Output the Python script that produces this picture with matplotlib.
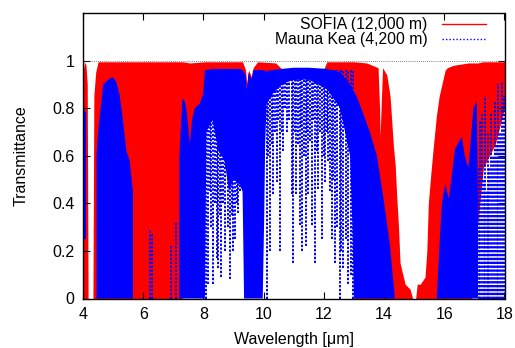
import numpy as np
import matplotlib
matplotlib.use("Agg")
import matplotlib.pyplot as plt

nan = np.nan

# SOFIA (12,000 m): envelope of the dense line forest (upper / lower)
sofia_wl = [4.00, 4.05, 4.10, 4.14, 4.17, 4.33, 4.36, 4.42, 4.50, 7.30, 7.55, 8.05,
            8.10, 9.30, 9.40, 9.44, 9.50, 9.60, 9.65, 9.80, 10.40, 10.60, 12.00, 12.10,
            12.50, 12.90, 12.95, 13.00, 13.42, 13.80, 13.85, 13.87, 13.90, 13.95, 14.09,
            14.20, 14.31, 14.37, 14.42, 14.48, 14.53, 14.70, 14.86, 14.95, 15.05, 15.10,
            15.20, 15.36, 15.42, 15.47, 15.55, 15.63, 15.74, 15.83, 15.92, 16.03, 16.10,
            16.30, 16.80, 16.90, 17.10, 17.30, 17.70, 18.00]
sofia_hi = [0.95, 0.995, 0.98, 0.90, 0.00, 0.00, 0.85, 0.95, 0.995, 0.995, 0.99, 0.995,
            0.995, 0.995, 0.96, 0.90, 0.96, 0.93, 0.97, 0.995, 0.99, 0.965, 0.965, 0.995,
            0.995, 0.995, 0.995, 0.995, 0.99, 0.97, 0.80, 0.68, 0.80, 0.97, 0.94,
            0.85, 0.64, 0.56, 0.43, 0.30, 0.15, 0.06, 0.04, 0.00, 0.00, 0.06,
            0.06, 0.09, 0.20, 0.40, 0.52, 0.63, 0.77, 0.85, 0.90, 0.96, 0.97,
            0.98, 0.99, 0.99, 0.99, 0.995, 0.995, 0.995]
sofia_lo = [0.00, 0.00, 0.00, 0.00, 0.00, 0.00, 0.00, 0.00, 0.00, 0.00, 0.50, 0.50,
            0.94, 0.94, 0.90, 0.85, 0.90, 0.88, 0.92, 0.94, 0.94, 0.94, 0.94, 0.94,
            0.93, 0.85, 0.50, 0.00, 0.00, 0.00, 0.00, 0.00, 0.00, 0.00, 0.00,
            0.00, 0.00, 0.00, 0.00, 0.00, 0.00, 0.00, 0.00, 0.00, 0.00, 0.00,
            0.00, 0.00, 0.00, 0.00, 0.00, 0.00, 0.00, 0.00, 0.00, 0.00, 0.00,
            0.00, 0.00, 0.00, 0.30, 0.55, 0.65, 0.80]

# Mauna Kea (4,200 m): dense parts (upper / lower), gaps as nan
mk_wl = [4.00, 4.10, nan,
         4.45, 4.50, 4.67, 4.89, 4.99, 5.11, 5.21, 5.32, 5.44, 5.55, 5.66, nan,
         7.20, 7.30, 7.38, 7.45, 7.55, 7.62, 7.71, 7.88, 7.99, 8.05, 8.10, 8.30, 8.50,
         8.70, 8.85, 9.00, 9.20, 9.30, 9.35, 9.40, 9.44, 9.50, 9.60, 9.65, 9.97, 10.02,
         10.05, 10.10, 10.30, 10.60, 11.00, 11.50, 12.10, 12.54, 12.87, 12.95, 13.00,
         13.09, 13.30, 13.53, 13.76, 13.97, 14.20, 14.30, 14.35, nan,
         15.75, 15.85, 15.92, 16.03, 16.15, 16.36, 16.58, 16.68, 16.80, 16.97, 17.08,
         17.12]
mk_hi = [0.80, 0.78, nan,
         0.60, 0.70, 0.90, 0.925, 0.93, 0.91, 0.86, 0.76, 0.62, 0.58, 0.45, nan,
         0.60, 0.84, 0.83, 0.78, 0.65, 0.75, 0.80, 0.82, 0.86, 0.96, 0.96, 0.965, 0.965,
         0.965, 0.965, 0.965, 0.965, 0.96, 0.95, 0.94, 0.88, 0.95, 0.92, 0.96, 0.96, 0.96,
         0.955, 0.95, 0.96, 0.965, 0.97, 0.97, 0.965, 0.95, 0.90, 0.88, 0.87,
         0.85, 0.78, 0.70, 0.60, 0.43, 0.22, 0.08, 0.02, nan,
         0.00, 0.25, 0.40, 0.48, 0.42, 0.63, 0.68, 0.60, 0.55, 0.80, 0.83,
         0.40]
mk_lo = [0.25, 0.25, nan,
         0.00, 0.00, 0.00, 0.00, 0.00, 0.00, 0.00, 0.00, 0.00, 0.00, 0.00, nan,
         0.00, 0.00, 0.00, 0.00, 0.00, 0.00, 0.00, 0.00, 0.00, 0.00, 0.70, 0.75, 0.62,
         0.58, 0.45, 0.50, 0.48, 0.45, 0.00, 0.00, 0.00, 0.00, 0.00, 0.00, 0.00, 0.35,
         0.65, 0.82, 0.86, 0.90, 0.92, 0.92, 0.88, 0.80, 0.60, 0.30, 0.00,
         0.00, 0.00, 0.00, 0.00, 0.00, 0.00, 0.00, 0.00, nan,
         0.00, 0.00, 0.00, 0.00, 0.00, 0.00, 0.00, 0.00, 0.00, 0.00, 0.00,
         0.00]

# Mauna Kea absorption lines in the windows (line centre, minimum)
mk_dip_wl = [8.10, 8.16, 8.21, 8.26, 8.32, 8.38, 8.44, 8.49, 8.55, 8.60, 8.66, 8.71,
             8.76, 8.82, 8.88, 8.94, 8.99, 9.04, 9.10, 9.15, 9.22, 9.27,
             10.10, 10.16, 10.21, 10.27, 10.32, 10.38, 10.43, 10.49, 10.54, 10.60, 10.65,
             10.71, 10.76, 10.84, 10.93, 10.98, 11.04, 11.09, 11.15, 11.20, 11.25, 11.29,
             11.35, 11.40, 11.44, 11.48, 11.54, 11.59, 11.65, 11.70, 11.76, 11.82, 11.88,
             11.93, 11.99, 12.04, 12.10, 12.15, 12.21, 12.26, 12.32, 12.37, 12.45, 12.52,
             12.58, 12.65, 12.72, 12.81, 12.90, 12.98]
mk_dip_min = [0.00, 0.06, 0.45, 0.30, 0.06, 0.40, 0.17, 0.13, 0.35, 0.09, 0.40, 0.20,
              0.55, 0.30, 0.08, 0.35, 0.20, 0.25, 0.40, 0.36, 0.45, 0.49,
              0.00, 0.60, 0.20, 0.65, 0.44, 0.70, 0.49, 0.75, 0.20, 0.70, 0.62,
              0.80, 0.70, 0.75, 0.44, 0.15, 0.70, 0.44, 0.65, 0.31, 0.72, 0.20,
              0.60, 0.22, 0.70, 0.44, 0.66, 0.31, 0.75, 0.15, 0.62, 0.46, 0.70,
              0.25, 0.60, 0.49, 0.70, 0.58, 0.45, 0.25, 0.50, 0.15, 0.30, 0.00,
              0.20, 0.13, 0.25, 0.06, 0.10, 0.00]

# Mauna Kea narrow transmission peaks inside opaque bands (centre, maximum)
mk_peak_wl = [6.22, 6.30, 6.92, 7.10, 17.15, 17.20, 17.25, 17.31, 17.36, 17.41,
              17.45, 17.50, 17.55, 17.62, 17.69, 17.75, 17.80, 17.86, 17.91, 17.97]
mk_peak_max = [0.29, 0.27, 0.22, 0.32, 0.55, 0.75, 0.78, 0.50, 0.85, 0.45,
               0.70, 0.55, 0.78, 0.60, 0.83, 0.65, 0.90, 0.70, 0.91, 0.85]

plt.rcParams['font.family'] = ['Liberation Sans', 'DejaVu Sans']
plt.rcParams['font.size'] = 11.5

fig = plt.figure(figsize=(5.15, 3.48), dpi=100)
ax = fig.add_axes([83 / 515, 1 - 298.5 / 348, 421.5 / 515, 285.5 / 348])

red = '#ff0000'
blue = '#0000ff'

ax.fill_between(sofia_wl, sofia_lo, sofia_hi, color=red, lw=0, zorder=1)
ax.fill_between(mk_wl, mk_lo, mk_hi, color=blue, lw=0, zorder=2)
ax.vlines(mk_dip_wl, mk_dip_min, 0.96, colors=blue, linestyles=(0, (1.2, 0.8)),
          lw=1.4, zorder=2)
ax.vlines(mk_peak_wl, 0, mk_peak_max, colors=blue, linestyles=(0, (1.2, 0.8)),
          lw=1.4, zorder=2)

ax.axhline(1.0, color='#555555', lw=0.6, ls=(0, (1, 1.5)), zorder=3)

ax.plot([], [], color=red, lw=1, label='SOFIA (12,000 m)')
ax.plot([], [], color=blue, lw=1, ls=(0, (1, 1.5)), label='Mauna Kea (4,200 m)')
ax.legend(loc='upper right', bbox_to_anchor=(0.955, 0.985), frameon=False,
          markerfirst=False, borderpad=0, borderaxespad=0, labelspacing=0.0,
          handlelength=2.8, handletextpad=0.9, fontsize=11.3)

ax.set_xlim(4, 18)
ax.set_ylim(0, 1.2)
ax.set_xticks([4, 6, 8, 10, 12, 14, 16, 18])
ax.set_yticks([0, 0.2, 0.4, 0.6, 0.8, 1.0])
ax.set_yticklabels(['0', '0.2', '0.4', '0.6', '0.8', '1'])
ax.tick_params(direction='in', top=True, right=True, length=5, width=0.8, pad=6)
for s in ax.spines.values():
    s.set_linewidth(1.0)
    s.set_zorder(5)

ax.set_xlabel('Wavelength [\u03bcm]', labelpad=7)
ax.set_ylabel('Transmittance', labelpad=17)

fig.savefig('out.png', dpi=100)
